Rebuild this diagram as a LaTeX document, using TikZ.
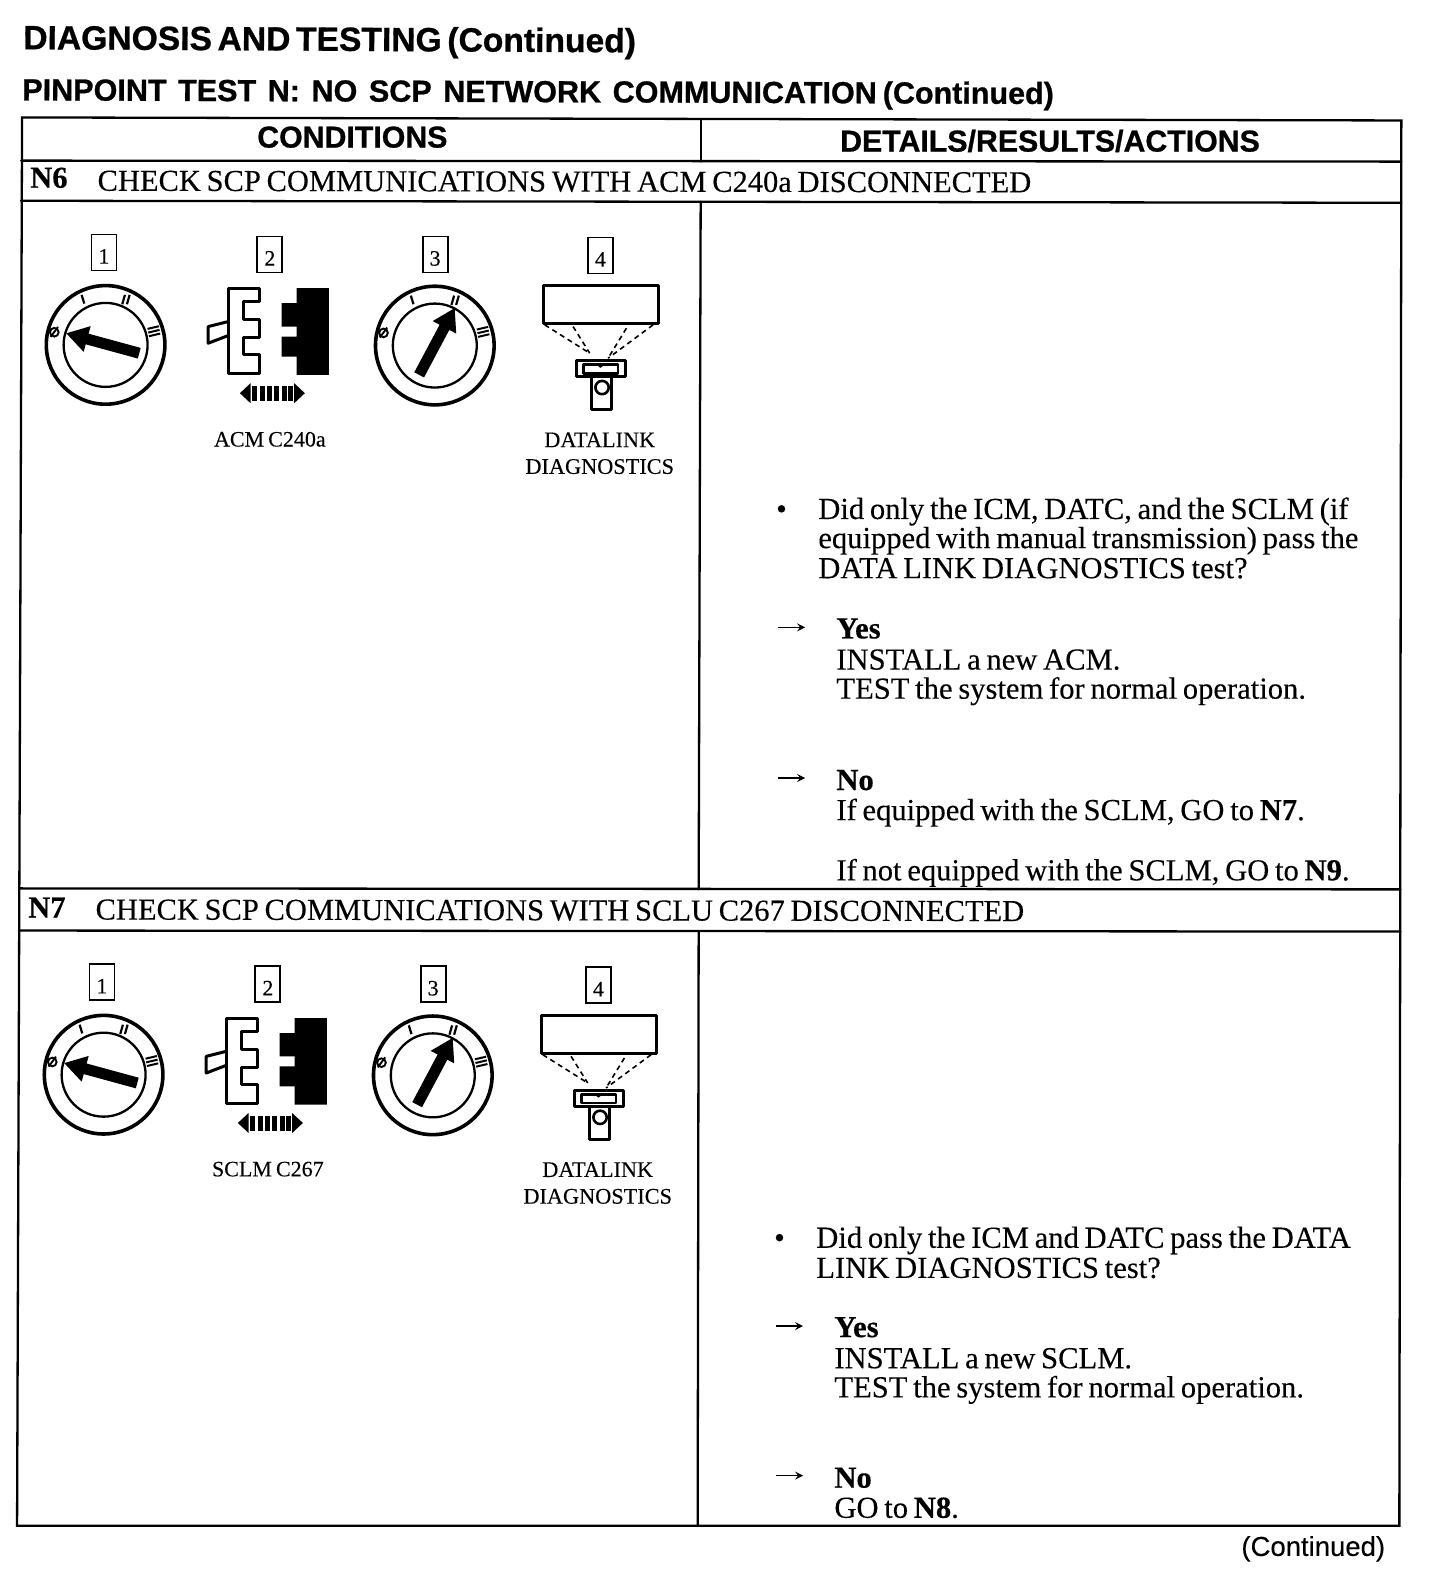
\documentclass[tikz,border=0pt]{standalone}
\usepackage{fontspec}
\setmainfont{Liberation Serif}[WordSpace=0.75,FakeBold=0.2,BoldFeatures={FakeBold=0.4}]
\setsansfont{Liberation Sans}[BoldFeatures={FakeBold=0.8},FakeBold=0.2]
\newfontfamily\titlesans{Liberation Sans}[Scale=1.001,WordSpace=0.6,BoldFeatures={FakeBold=0.8}]
\newfontfamily\subsans{Liberation Sans}[Scale=1.002,WordSpace=1.36,BoldFeatures={FakeBold=0.8}]
\usetikzlibrary{arrows.meta,calc}
\tikzset{
  rule/.style={draw=black,line width=2.3pt,line cap=round},
  head/.style={anchor=base west,inner sep=0pt,font=\titlesans\bfseries\fontsize{33.6}{34}\selectfont},
  subhead/.style={anchor=base west,inner sep=0pt,font=\sffamily\bfseries\fontsize{30.5}{31}\selectfont},
  colhead/.style={anchor=base,inner sep=0pt,font=\sffamily\bfseries\fontsize{30.3}{31}\selectfont},
  body/.style={anchor=base west,inner sep=0pt,font=\fontsize{30.6}{31}\selectfont},
  rowhead/.style={anchor=base west,inner sep=0pt,font=\fontsize{30.5}{31}\selectfont},
  numbox/.style={draw=black,line width=1.8pt,minimum width=25pt,minimum height=36pt,inner sep=0pt,text height=22pt,text depth=0pt,font=\fontsize{22}{22}\selectfont},
  caption/.style={anchor=base,inner sep=0pt,font=\fontsize{22}{22}\selectfont},
  capwide/.style={anchor=base,inner sep=0pt,font=\fontsize{22.3}{23}\selectfont},
  yesno/.style={-{Stealth[length=8pt,width=8pt,inset=3pt]},line width=1.6pt},
  icon/.style={draw=black,line width=2.6pt,line join=round},
  dashline/.style={draw=black,line width=1.6pt,dash pattern=on 5pt off 4pt},
  testrow/.pic={
    \begin{scope}[x=0.3333pt,y=-0.3333pt]
      \node[numbox] (-b1) at (252,98) {1};
      \node[numbox] (-b2) at (750,104) {2};
      \node[numbox] (-b3) at (1246,104) {3};
      \node[numbox] (-b4) at (1742,107) {4};
      % switch 1
      \keysw{257}{375}{358}{400}{138}{340}
      % switch 3
      \keysw{1245}{377}{1198}{465}{1305}{264}
      % connector
      \draw[icon,line width=3pt] (625,205)--(720,205)--(720,245)--(670,245)--(670,300)--(720,300)--(720,352)--(670,352)--(670,405)--(720,405)--(720,460)--(625,460)--cycle;
      \draw[icon,line width=3pt] (625,305)--(565,320)--(565,370)--(625,347);
      \fill[black] (830,205)--(927,205)--(927,465)--(830,465)--(830,410)--(785,410)--(785,350)--(830,350)--(830,320)--(785,320)--(785,250)--(830,250)--cycle;
      \fill[black] (660,520)--(692,490)--(692,550)--cycle;
      \fill[black] (855,520)--(823,490)--(823,550)--cycle;
      \foreach \xx in {697,719,741,763,785,805}{\fill[black] (\xx,498) rectangle +(15,46);}
      \node[caption] (-cap) at (750,680) {\pgfkeysvalueof{/tikz/captext}};
      % tool
      \draw[icon,line width=3pt] (1570,197) rectangle (1915,310);
      \draw[dashline] (1575,315)--(1710,400);
      \draw[dashline] (1660,320)--(1710,400);
      \draw[dashline] (1900,315)--(1765,415);
      \draw[dashline] (1820,325)--(1765,415);
      \draw[icon,line width=3pt] (1670,422) rectangle (1817,470);
      \draw[icon,line width=2.6pt] (1692,434) rectangle (1795,460);
      \fill[black] (1730,434)--(1755,434)--(1742,444)--cycle;
      \draw[icon,line width=3pt] (1715,470)--(1715,570)--(1775,570)--(1775,470);
      \draw[icon] (1747,503) circle (20);
      \node[capwide] (-capa) at (1740,682) {DATALINK};
      \node[capwide] (-capb) at (1740,762) {DIAGNOSTICS};
    \end{scope}
  }
}
\pgfkeyssetvalue{/tikz/captext}{}
\newcommand\keysw[6]{%
  \draw[icon,line width=3.6pt] (#1,#2) circle (178);
  \draw[icon,line width=2.3pt] (#1,#2) circle (126);
  \begin{scope}[shift={(#1,#2)}]
    \draw[line width=1.9pt] (-154,-38) circle (13);
    \draw[line width=1.9pt] (-165,-24)--(-143,-54);
    \draw[line width=2.2pt] (-72,-150)--(-64,-124);
    \draw[line width=2.2pt] (58,-150)--(50,-122) (72,-150)--(64,-122);
    \draw[line width=2pt] (126,-48)--(160,-56) (128,-37)--(162,-45) (130,-26)--(164,-34);
  \end{scope}
  \draw[line width=11pt,-{Triangle[length=22pt,width=25pt]}] (#3,#4)--(#5,#6);
}
\begin{document}
\begin{tikzpicture}[x=1.00414pt,y=-1.00414pt]
\useasboundingbox (0,0) rectangle (1450,1568);
\node[head,rotate=-0.3] (title) at (23,49) {DIAGNOSIS AND TESTING (Continued)};
\node[subhead,rotate=-0.2] (sub) at (22,100) {{\subsans\bfseries PINPOINT TEST N: NO SCP NETWORK COMMUNICATION}\hspace{6pt}(Continued)};
% table frame
\coordinate (tl) at (22,117); \coordinate (tr) at (1396,120);
\coordinate (bl) at (17,1520); \coordinate (br) at (1394,1520);
\coordinate (mt) at (698,120); \coordinate (mb) at (695,1520);
\coordinate (r1l) at (21,160); \coordinate (r1r) at (1396,161);
\coordinate (r2l) at (21,200); \coordinate (r2r) at (1396,202);
\coordinate (r3l) at (19,885); \coordinate (r3r) at (1395,886);
\coordinate (r4l) at (19,927); \coordinate (r4r) at (1395,928);
\coordinate (m1) at (698,161); \coordinate (m2) at (698,201);
\coordinate (m3) at (696,886); \coordinate (m4) at (696,928);
\draw[rule] (tl)--(tr)--(br)--(bl)--cycle;
\draw[rule] (mt)--(m1);
\draw[rule] (m2)--(m3);
\draw[rule] (m4)--(mb);
\draw[rule] (r1l)--(r1r);
\draw[rule] (r2l)--(r2r);
\draw[rule] (r3l)--(r3r);
\draw[rule] (r4l)--(r4r);
\node[colhead] (cond) at (351,147) {CONDITIONS};
\node[colhead] (det) at (1046,151) {DETAILS/RESULTS/ACTIONS};
\node[rowhead] (n6) at (30,187) {\textbf{N6}};
\node[rowhead,rotate=-0.1] (n6t) at (97,190) {CHECK SCP COMMUNICATIONS WITH ACM C240a DISCONNECTED};
\node[rowhead] (n7) at (28,914) {\textbf{N7}};
\node[rowhead,rotate=-0.1] (n7t) at (95,916) {CHECK SCP COMMUNICATIONS WITH SCLU C267 DISCONNECTED};
% icons
\pgfkeyssetvalue{/tikz/captext}{ACM C240a}
\pic (ia) at (19.9,219.1) {testrow};
\pgfkeyssetvalue{/tikz/captext}{SCLM C267}
\pic (ib) at (17.9,946.1) {testrow};
% N6 right
\node[body] (bu1) at (773,517) {\textbullet};
\node[body] (a1) at (815,517) {Did only the ICM, DATC, and the SCLM (if};
\node[body] (a2) at (815,546) {equipped with manual transmission) pass the};
\node[body] (a3) at (815,576) {DATA LINK DIAGNOSTICS test?};
\coordinate (y1s) at (775,625); \coordinate (y1e) at (802,625);
\draw[yesno] (y1s)--(y1e);
\node[body] (a4) at (833,636) {\textbf{Yes}};
\node[body] (a5) at (833,667) {INSTALL a new ACM.};
\node[body] (a6) at (833,696) {TEST the system for normal operation.};
\coordinate (n1s) at (775,775); \coordinate (n1e) at (802,775);
\draw[yesno] (n1s)--(n1e);
\node[body] (a7) at (833,787) {\textbf{No}};
\node[body] (a8) at (833,817) {If equipped with the SCLM, GO to \textbf{N7}.};
\node[body] (a9) at (833,877) {If not equipped with the SCLM, GO to \textbf{N9}.};
% N7 right
\node[body] (bu2) at (771,1243) {\textbullet};
\node[body] (c1) at (813,1243) {Did only the ICM and DATC pass the DATA};
\node[body] (c2) at (813,1273) {LINK DIAGNOSTICS test?};
\coordinate (y2s) at (773,1321); \coordinate (y2e) at (800,1321);
\draw[yesno] (y2s)--(y2e);
\node[body] (c3) at (831,1332) {\textbf{Yes}};
\node[body] (c4) at (831,1363) {INSTALL a new SCLM.};
\node[body] (c5) at (831,1392) {TEST the system for normal operation.};
\coordinate (n2s) at (773,1470); \coordinate (n2e) at (800,1470);
\draw[yesno] (n2s)--(n2e);
\node[body] (c6) at (831,1482) {\textbf{No}};
\node[body] (c7) at (831,1512) {GO to \textbf{N8}.};
\node[anchor=base east,inner sep=0pt,font=\sffamily\fontsize{27.5}{28}\selectfont] (cont) at (1380,1550) {(Continued)};
\end{tikzpicture}
\end{document}
